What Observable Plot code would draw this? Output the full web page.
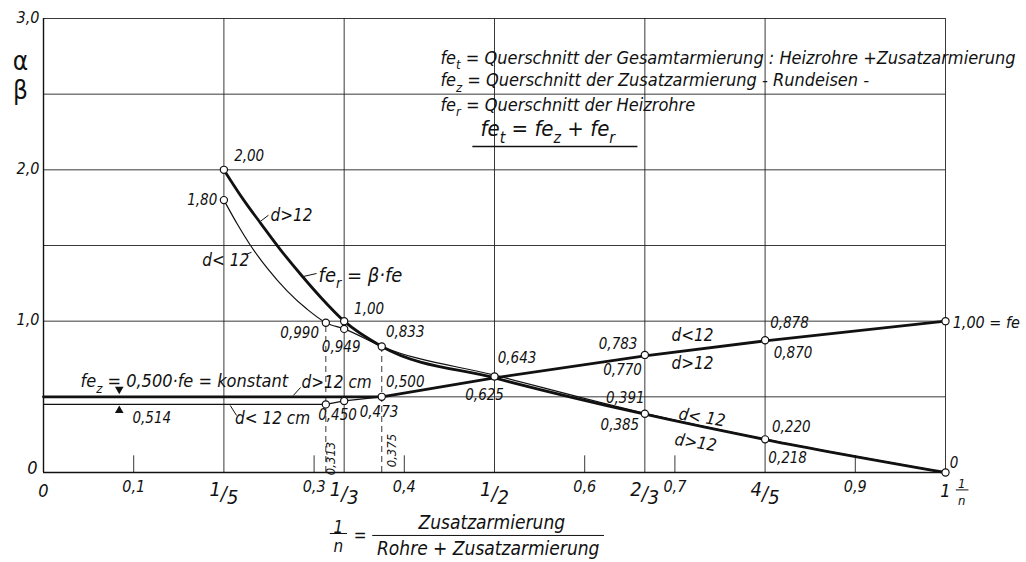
<!DOCTYPE html>
<html><head><meta charset="utf-8">
<script src="https://cdn.jsdelivr.net/npm/d3@7"></script>
<script src="https://cdn.jsdelivr.net/npm/@observablehq/plot@0.6"></script>
<style>
body{margin:0;background:#fff;}
#chart svg{display:block;}
</style></head><body><div id="chart"></div>
<script>
const FONT = '"Liberation Sans Narrow","DejaVu Sans Condensed","Liberation Sans",sans-serif';

// ---- curve data (x = 1/n, y = alpha / beta) ----
const betaOver12 = [[0.2,2.0],[0.222,1.80],[0.241,1.645],[0.263,1.47],[0.285,1.31],[0.307,1.16],[1/3,1.0],[0.375,0.833],[0.5,0.625],[2/3,0.385],[0.8,0.218],[1,0]];
const betaUnder12 = [[0.2,1.8],[0.215,1.64],[0.229,1.505],[0.248,1.35],[0.270,1.20],[0.292,1.08],[0.313,0.990],[1/3,0.949],[0.375,0.833],[0.5,0.643],[2/3,0.391],[0.8,0.220],[1,0]];
const alphaOver12 = [[0,0.5],[0.375,0.5],[0.5,0.625],[2/3,0.770],[0.8,0.870],[1,1.0]];
const alphaUnder12 = [[0,0.45],[0.313,0.45],[1/3,0.473],[0.375,0.5]];
const markedPoints = [[0.2,2.0],[0.2,1.8],[0.313,0.990],[1/3,1.0],[1/3,0.949],[0.375,0.833],[0.5,0.634],[2/3,0.388],[0.8,0.219],[1,0],
  [0.313,0.45],[1/3,0.473],[0.375,0.5],[2/3,0.777],[0.8,0.874],[1,1.0]];
const dashedMarks = [[0.313,0.990],[0.375,0.833]];

// ---- grid / ticks ----
const xGrid = [1/5,1/3,1/2,2/3,4/5,1];
const yGrid = [0.5,1,1.5,2,2.5,3];
const minorTicks = [0.1,0.3,0.4,0.6,0.7,0.9];
const minorLabels = ["0,1","0,3","0,4","0,6","0,7","0,9"];
const fracTicks = [1/5,1/3,1/2,2/3,4/5];
const fracLabels = ["^{1}/~{5}","^{1}/~{3}","^{1}/~{2}","^{2}/~{3}","^{4}/~{5}"];
const yTicks = [1,2,3];
const yTickLabels = ["1,0","2,0","3,0"];

// ---- annotations [x, y, text] ----
const valueLabels = [
  [0.228,2.09,"2,00"],[0.176,1.80,"1,80"],[0.361,1.08,"1,00"],[0.284,0.92,"0,990"],[0.330,0.83,"0,949"],
  [0.401,0.925,"0,833"],[0.401,0.60,"0,500"],[0.326,0.377,"0,450"],[0.372,0.40,"0,473"],
  [0.525,0.755,"0,643"],[0.489,0.509,"0,625"],[0.637,0.85,"0,783"],[0.642,0.675,"0,770"],
  [0.827,0.985,"0,878"],[0.831,0.79,"0,870"],[0.645,0.49,"0,391"],[0.639,0.31,"0,385"],
  [0.829,0.297,"0,220"],[0.825,0.093,"0,218"],[1.0095,0.06,"0"],[0.12,0.357,"0,514"]
];
const curveNames = [[0.275,1.70,"d>12"],[0.202,1.40,"d< 12"],[0.7195,0.905,"d<12"],[0.7195,0.72,"d>12"],[0.325,0.595,"d>12 cm"],[0.254,0.357,"d< 12 cm"]];
const slopedNames = [[0.73,0.363,"d< 12"],[0.723,0.198,"d>12"]];
const feLabels = [[0.305,1.30,"fe_{r} = β·fe"]];
const startLabels = [[1.008,0.99,"1,00 = fe"]];
const constLabel = [[0.041,0.60,"fe_{z} = 0,500·fe = konstant"]];
const legendLines = [
  [0.44,2.74,"fe_{t} = Querschnitt der Gesamtarmierung : Heizrohre +Zusatzarmierung"],
  [0.44,2.59,"fe_{z} = Querschnitt der Zusatzarmierung - Rundeisen -"],
  [0.44,2.43,"fe_{r} = Querschnitt der Heizrohre"]
];
const legendFormula = [[0.4845,2.27,"fe_{t} = fe_{z} + fe_{r}"]];
const underline = [[0.476,0.659,2.154]];
const leaders = [[0.2406,1.66,0.2494,1.70],[0.224,1.44,0.2306,1.455],[0.288,1.295,0.3027,1.315],[0.277,0.509,0.285,0.562],[0.207,0.443,0.214,0.377]];
const dashLabels = [[0.318,0.093,"0,313"],[0.386,0.145,"0,375"]];
const arrowsDown = [[0.084,0.55]];
const arrowsUp = [[0.084,0.41]];
const axisTitleFrac = [[0.327,-0.363,"1"],[0.327,-0.489,"n"],[0.351,-0.416,"="]];
const axisTitle = [[0.497,-0.33,"Zusatzarmierung"],[0.493,-0.502,"Rohre + Zusatzarmierung"]];
const axisTitleBars = [[0.318,0.337,-0.403],[0.365,0.622,-0.416]];
const endFrac = [[1.018,-0.075,"1"],[1.018,-0.185,"n"]];
const endFracBar = [[1.012,1.026,-0.115]];
const greek = [[-0.0255,2.716,"α"],[-0.0255,2.525,"β"]];

const fx = d=>d[0], fy = d=>d[1], ft = d=>d[2];

const chart = Plot.plot({
  width: 1026, height: 562,
  marginLeft: 43, marginRight: 81, marginTop: 18, marginBottom: 90,
  x: {domain:[0,1], axis:null},
  y: {domain:[0,3], axis:null},
  style: {fontFamily: FONT, fontStyle:"italic", background:"#fff", color:"#111", overflow:"visible"},
  marks: [
    Plot.ruleY(yGrid, {x1:0, x2:1, stroke:"#222", strokeWidth:0.9}),
    Plot.ruleX(xGrid, {y1:0, y2:3, stroke:"#222", strokeWidth:0.9}),
    Plot.ruleX(minorTicks, {y1:0, y2:0.11, stroke:"#222", strokeWidth:0.9}),
    Plot.ruleX(dashedMarks, {x:fx, y1:0, y2:fy, stroke:"#222", strokeWidth:0.9, strokeDasharray:"6,4"}),
    Plot.ruleY([0], {x1:0, x2:1, stroke:"#111", strokeWidth:1.6}),
    Plot.ruleX([0], {y1:0, y2:3, stroke:"#111", strokeWidth:1.4}),
    Plot.line(betaUnder12, {x:fx, y:fy, curve:"monotone-x", stroke:"#111", strokeWidth:1.2}),
    Plot.line(alphaUnder12, {x:fx, y:fy, stroke:"#111", strokeWidth:1.2}),
    Plot.line(betaOver12, {x:fx, y:fy, curve:"monotone-x", stroke:"#111", strokeWidth:2.8}),
    Plot.line(alphaOver12, {x:fx, y:fy, stroke:"#111", strokeWidth:2.8}),
    Plot.link(leaders, {x1:d=>d[0], y1:d=>d[1], x2:d=>d[2], y2:d=>d[3], stroke:"#111", strokeWidth:1}),
    Plot.dot(markedPoints, {x:fx, y:fy, r:3.6, fill:"#fff", stroke:"#111", strokeWidth:1.2}),
    Plot.dot(arrowsDown, {x:fx, y:fy, symbol:"triangle", rotate:180, r:3.2, fill:"#111"}),
    Plot.dot(arrowsUp, {x:fx, y:fy, symbol:"triangle", r:3.2, fill:"#111"}),
    Plot.text(valueLabels, {x:fx, y:fy, text:ft, fontSize:15}),
    Plot.text(curveNames, {x:fx, y:fy, text:ft, fontSize:17}),
    Plot.text(slopedNames, {x:fx, y:fy, text:ft, fontSize:17, rotate:9}),
    Plot.text(feLabels, {x:fx, y:fy, text:ft, fontSize:20, textAnchor:"start"}),
    Plot.text(startLabels, {x:fx, y:fy, text:ft, fontSize:16, textAnchor:"start"}),
    Plot.text(constLabel, {x:fx, y:fy, text:ft, fontSize:18, textAnchor:"start"}),
    Plot.text(legendLines, {x:fx, y:fy, text:ft, fontSize:18, textAnchor:"start"}),
    Plot.text(legendFormula, {x:fx, y:fy, text:ft, fontSize:22, textAnchor:"start"}),
    Plot.ruleY(underline, {x1:d=>d[0], x2:d=>d[1], y:d=>d[2], stroke:"#111", strokeWidth:1.6}),
    Plot.text(dashLabels, {x:fx, y:fy, text:ft, fontSize:13, rotate:-90}),
    Plot.text(minorTicks, {x:d=>d, y:0, text:(d,i)=>minorLabels[i], dy:14, fontSize:16}),
    Plot.text(fracTicks, {x:d=>d, y:0, text:(d,i)=>fracLabels[i], dy:21, fontSize:20}),
    Plot.text([0,1], {x:d=>d, y:0, text:d=>String(d), dy:19, fontSize:18}),
    Plot.text(yTicks, {x:0, y:d=>d, text:(d,i)=>yTickLabels[i], dx:-4, dy:-1, textAnchor:"end", fontSize:16}),
    Plot.text([0], {x:0, y:0, text:()=>"0", dx:-6, dy:-4, textAnchor:"end", fontSize:18}),
    Plot.text(greek, {x:fx, y:fy, text:ft, fontSize:26, fontStyle:"normal"}),
    Plot.text(axisTitleFrac, {x:fx, y:fy, text:ft, fontSize:17}),
    Plot.text(axisTitle, {x:fx, y:fy, text:ft, fontSize:19}),
    Plot.ruleY(axisTitleBars, {x1:d=>d[0], x2:d=>d[1], y:d=>d[2], stroke:"#111", strokeWidth:1}),
    Plot.text(endFrac, {x:fx, y:fy, text:ft, fontSize:13}),
    Plot.ruleY(endFracBar, {x1:d=>d[0], x2:d=>d[1], y:d=>d[2], stroke:"#111", strokeWidth:1})
  ]
});
document.getElementById("chart").appendChild(chart);

// render _{sub}, ^{raised}, ~{lowered} as tspans
function rich(root){
  root.querySelectorAll("text").forEach(t=>{
    const s = t.textContent;
    if(!/[_^~]\{/.test(s)) return;
    const fs = parseFloat(getComputedStyle(t).fontSize) || 14;
    const re = /([_^~])\{([^}]*)\}/g;
    const parts = []; let last = 0, m;
    while((m = re.exec(s))){ if(m.index>last) parts.push({t:s.slice(last,m.index),k:""}); parts.push({t:m[2],k:m[1]}); last = re.lastIndex; }
    if(last < s.length) parts.push({t:s.slice(last),k:""});
    while(t.firstChild) t.removeChild(t.firstChild);
    let cur = 0;
    parts.forEach(p=>{
      const ts = document.createElementNS("http://www.w3.org/2000/svg","tspan");
      let shift = 0, size = null;
      if(p.k==="_"){ shift = fs*0.3; size = fs*0.72; }
      else if(p.k==="^"){ shift = -fs*0.2; }
      else if(p.k==="~"){ shift = fs*0.2; }
      ts.setAttribute("dy", (shift-cur).toFixed(2)); cur = shift;
      if(size) ts.setAttribute("font-size", size.toFixed(1));
      ts.textContent = p.t;
      t.appendChild(ts);
    });
  });
}
rich(chart);
</script>
</body></html>
